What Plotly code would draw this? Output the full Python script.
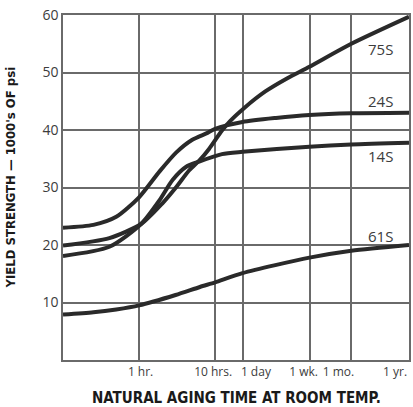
import plotly.graph_objects as go

# x positions are in decades of hours as drawn on the chart (0 = 1 hr)
grid_pos = [0.0, 1.0, 1.362, 2.242, 2.787, 3.549]
tick_label_pos = [0.02, 0.974, 1.536, 2.163, 2.621, 3.366]
tick_labels = ["1 hr.", "10 hrs.", "1 day", "1 wk.", "1 mo.", "1 yr."]

x_24s = [-1.0, -0.6, -0.3, 0.0, 0.27, 0.49, 0.7, 0.9, 1.0, 1.36, 1.8, 2.24, 2.79, 3.549]
y_24s = [23.0, 23.5, 24.9, 28.3, 32.8, 36.1, 38.3, 39.5, 40.2, 41.4, 42.1, 42.6, 42.9, 43.0]

x_75s = [-1.0, -0.39, 0.03, 0.31, 0.49, 0.66, 0.8, 0.92, 1.09, 1.2, 1.38, 1.66, 1.95, 2.24, 2.79, 3.549]
y_75s = [19.9, 21.2, 23.7, 27.3, 30.1, 33.0, 34.8, 36.7, 39.9, 41.6, 43.8, 46.7, 49.0, 51.0, 55.0, 59.7]

x_14s = [-1.0, -0.39, 0.03, 0.27, 0.44, 0.62, 0.79, 1.09, 1.36, 2.24, 2.79, 3.549]
y_14s = [18.1, 19.7, 23.7, 27.8, 31.3, 33.6, 34.5, 35.8, 36.2, 37.1, 37.5, 37.8]

x_61s = [-1.0, -0.6, -0.3, 0.0, 0.48, 0.8, 1.0, 1.36, 2.24, 2.79, 3.549]
y_61s = [7.9, 8.3, 8.8, 9.5, 11.3, 12.7, 13.5, 15.1, 17.8, 19.0, 20.0]

series = [("75S", x_75s, y_75s), ("24S", x_24s, y_24s), ("14S", x_14s, y_14s), ("61S", x_61s, y_61s)]
label_xy = {"75S": (3.18, 54.1), "24S": (3.18, 45.0), "14S": (3.18, 35.5), "61S": (3.18, 21.6)}

y_ticks = [10, 20, 30, 40, 50, 60]

line_color = "#2a2a2a"
grid_color = "#6a6a6a"
text_color = "#3c3c3c"

fig = go.Figure()
for name, xs, ys in series:
    fig.add_trace(go.Scatter(x=xs, y=ys, mode="lines", name=name,
                             line=dict(color=line_color, width=4, shape="spline", smoothing=0.7),
                             showlegend=False, hoverinfo="skip"))
    lx, ly = label_xy[name]
    fig.add_annotation(x=lx, y=ly, text=name, showarrow=False,
                       font=dict(family="Open Sans, DejaVu Sans", size=15, color=text_color))

fig.update_layout(
    width=413, height=407,
    margin=dict(l=63, r=2, t=15, b=47),
    paper_bgcolor="white", plot_bgcolor="white",
    xaxis=dict(range=[-1, 3.549], showgrid=False, zeroline=False,
               showline=True, mirror=True, linecolor=grid_color, linewidth=1.5,
               tickmode="array", tickvals=tick_label_pos, ticktext=tick_labels,
               ticks="", tickfont=dict(family="Open Sans, DejaVu Sans", size=12, color=text_color),
               minor=dict(tickmode="array", tickvals=grid_pos, showgrid=True,
                          gridcolor=grid_color, gridwidth=1.5, ticks="")),
    yaxis=dict(range=[0, 60], showgrid=True, gridcolor=grid_color, gridwidth=1.5,
               zeroline=False, showline=True, mirror=True, linecolor=grid_color, linewidth=1.5,
               tickmode="array", tickvals=y_ticks, ticks="",
               tickfont=dict(family="Open Sans, DejaVu Sans", size=14, color=text_color)),
)

fig.add_annotation(xref="paper", yref="paper", x=-0.152, y=0.53, xanchor="center", yanchor="middle",
                   text="YIELD STRENGTH — 1000's OF psi",
                   textangle=-90, showarrow=False,
                   font=dict(family="DejaVu Sans Condensed, Liberation Sans Narrow, DejaVu Sans", size=13,
                             color="#1a1a1a", weight="bold"))
fig.add_annotation(xref="paper", yref="paper", x=0.5, y=-0.110, xanchor="center", yanchor="middle",
                   text="NATURAL AGING TIME AT ROOM TEMP.",
                   showarrow=False,
                   font=dict(family="DejaVu Sans Condensed, Liberation Sans Narrow, DejaVu Sans", size=15,
                             color="#1a1a1a", weight="bold"))

fig.write_html("out.html", config={"displayModeBar": False},
               post_script="document.body.style.margin='0px';")
